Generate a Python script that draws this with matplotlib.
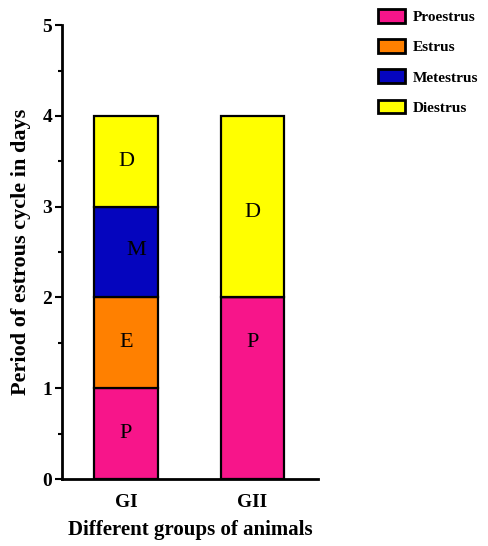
import matplotlib
matplotlib.use("Agg")
import matplotlib.pyplot as plt
from matplotlib.patches import Patch
from matplotlib.ticker import MultipleLocator

groups = ["GI", "GII"]
phases = ["Proestrus", "Estrus", "Metestrus", "Diestrus"]
letters = ["P", "E", "M", "D"]
values = {
    "Proestrus": [1, 2],
    "Estrus": [1, 0],
    "Metestrus": [1, 0],
    "Diestrus": [1, 2],
}
colors = ["#F7158A", "#FF8000", "#0505BE", "#FFFF00"]
# label placement within segments (x shift, fraction of segment height)
label_dx = {"M": 0.08}
label_frac = [[0.5, 0.5, 0.52, 0.5], [0.75, 0.5, 0.5, 0.47]]

plt.rcParams["font.family"] = ["Liberation Serif", "DejaVu Serif"]
plt.rcParams["font.weight"] = "bold"

fig = plt.figure(figsize=(4.89, 5.46), dpi=100)
ax = fig.add_axes([0.127, 0.1227, 0.523, 0.8313])

x = list(range(len(groups)))
bottoms = [0.0] * len(groups)
for pi, ph in enumerate(phases):
    vals = values[ph]
    ax.bar(x, vals, width=0.5, bottom=bottoms, color=colors[pi],
           edgecolor="black", linewidth=1.6, zorder=2)
    for gi in range(len(groups)):
        if vals[gi] > 0:
            ax.text(x[gi] + label_dx.get(letters[pi], 0),
                    bottoms[gi] + vals[gi] * label_frac[gi][pi],
                    letters[pi], ha="center", va="center",
                    fontsize=16, fontweight="normal", color="black")
    bottoms = [b + v for b, v in zip(bottoms, vals)]

ax.set_xlim(-0.506, 1.518)
ax.set_ylim(0, 5)
ax.yaxis.set_major_locator(MultipleLocator(1))
ax.yaxis.set_minor_locator(MultipleLocator(0.5))
ax.set_xticks(x)
ax.set_xticklabels(groups, fontsize=14, fontweight="bold")
ax.tick_params(axis="x", length=0, pad=11)
ax.tick_params(axis="y", which="major", length=5, width=1.5, labelsize=14, pad=2)
ax.tick_params(axis="y", which="minor", length=3, width=1.5)
for lab in ax.get_yticklabels():
    lab.set_fontweight("bold")
for s in ["top", "right"]:
    ax.spines[s].set_visible(False)
for s in ["left", "bottom"]:
    ax.spines[s].set_linewidth(2)

ax.set_ylabel("Period of estrous cycle in days", fontsize=16, fontweight="bold", labelpad=8)
ax.set_xlabel("Different groups of animals", fontsize=15, fontweight="bold", labelpad=6)

handles = [Patch(facecolor=c, edgecolor="black", linewidth=2, label=p)
           for c, p in zip(colors, phases)]
fig.legend(handles=handles, loc="upper left", bbox_to_anchor=(0.745, 1.008),
           frameon=False, handlelength=1.75, handleheight=1.0,
           labelspacing=0.98, handletextpad=0.55, prop={"weight": "bold", "size": 11})

fig.savefig("out.png", dpi=100)
